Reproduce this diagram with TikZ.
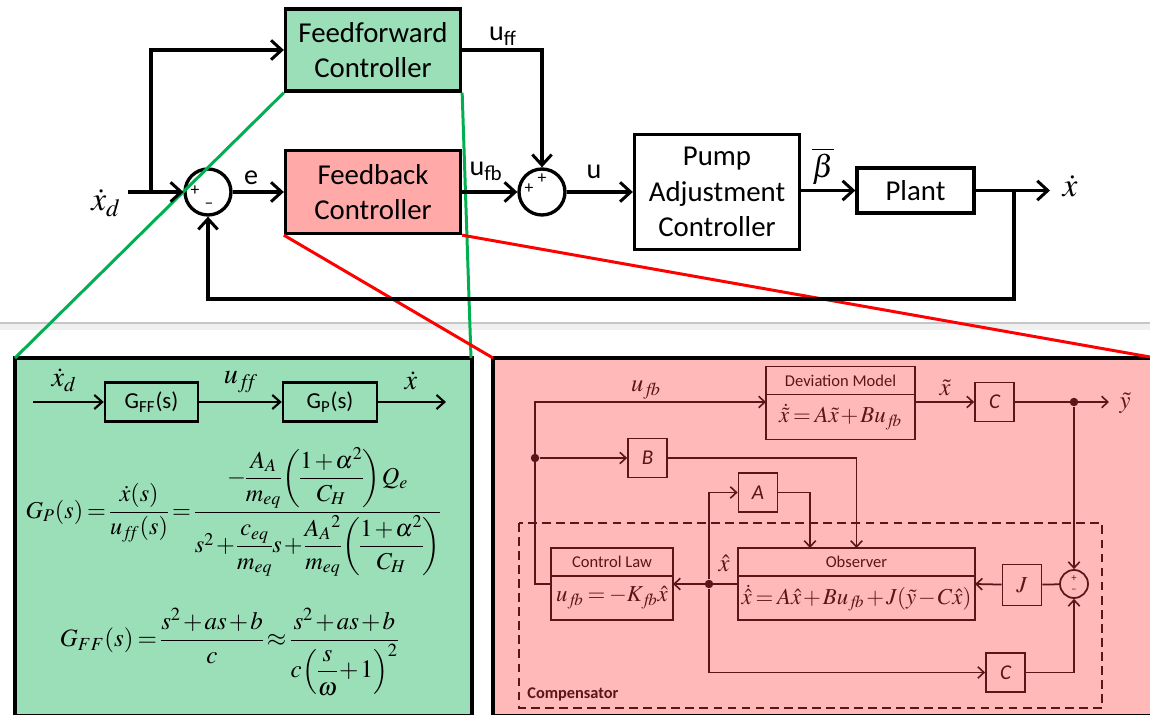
\documentclass[tikz,border=0pt]{standalone}
\usepackage{amsmath,amssymb}
\usepackage{mathptmx}
\usepackage[no-math]{fontspec}
\setmainfont{Carlito}
\usepackage{xcolor}
\usepackage{tikz}
\usetikzlibrary{positioning,calc,arrows.meta}

\definecolor{ffgreen}{HTML}{9BDFB8}
\definecolor{fbpink}{HTML}{FFA9A9}
\definecolor{panelred}{HTML}{FFB9B9}
\definecolor{zoomgreen}{HTML}{00B050}
\definecolor{maroon}{HTML}{5A1616}

% tighter spacing in the equations
\newcommand{\tighteq}{\thickmuskip=3mu \medmuskip=1.5mu \thinmuskip=1mu \nulldelimiterspace=0pt}
\newcommand{\subff}{{f\mkern-4mu f}}
\newcommand{\subfb}{{f\mkern-3mu b}}

\tikzset{
    mainline/.style={line width=1.9pt, black, -{Straight Barb[length=6pt,width=11pt,line width=1.7pt]}},
    mainblock/.style={draw=black, line width=1.9pt, minimum width=3.5cm, align=center, inner sep=0pt,
        font=\fontsize{16.4}{20}\selectfont},
    sumnode/.style={circle, draw=black, line width=1.9pt, minimum size=0.92cm, inner sep=0pt},
    signmark/.style={inner sep=0pt, font=\fontsize{10}{10}\selectfont},
    toplabel/.style={inner sep=0pt, font=\fontsize{16}{18}\selectfont},
    panel/.style={draw=black, line width=1.8pt},
    zoomline/.style={line width=1.7pt},
    ffline/.style={line width=1.4pt, black, -{Straight Barb[length=4.5pt,width=8pt,line width=1.2pt]}},
    ffblock/.style={draw=black, line width=1.4pt, minimum height=0.78cm, inner sep=0pt,
        font=\fontsize{13}{15}\selectfont},
    darkline/.style={line width=1pt, maroon, -{Straight Barb[length=3.5pt,width=6.5pt,line width=0.9pt]}},
    darkplain/.style={line width=1pt, maroon},
    gainblock/.style={draw=maroon, line width=1pt, text=maroon, inner sep=0pt, minimum width=0.78cm,
        minimum height=0.78cm, font=\itshape\fontsize{12}{14}\selectfont},
    headblock/.style={draw=maroon, line width=1pt, text=maroon, inner sep=0pt, outer sep=0pt, minimum height=0.56cm,
        font=\fontsize{9.4}{11}\selectfont},
    eqblock/.style={draw=maroon, line width=1pt, text=maroon, inner sep=0pt, outer sep=0pt,
        font=\fontsize{13}{15}\selectfont},
    darkdot/.style={circle, fill=maroon, inner sep=0pt, minimum size=0.17cm},
    darklabel/.style={text=maroon, inner sep=0pt, font=\fontsize{14}{14}\selectfont},
}

\begin{document}
\begin{tikzpicture}[x=0.02cm, y=-0.02cm]
    \useasboundingbox (0,0) rectangle (1150,715);

    % Separator
    \fill[gray!12] (0,323) rectangle (1150,330);
    \draw[gray!45, line width=0.6pt] (0,323) -- (1150,323);

    % Panels
    \draw[panel, fill=ffgreen] (15,358) rectangle (472,716);
    \draw[panel, fill=panelred] (493,358) rectangle (1165,716);

    % Main loop blocks
    \node[mainblock, fill=ffgreen, minimum height=1.64cm] (ffc) at (373,50) {Feedforward\\Controller};
    \node[mainblock, fill=fbpink, minimum height=1.66cm] (fbc) at (373,192) {Feedback\\Controller};
    \node[mainblock, fill=white, minimum width=3.3cm, minimum height=2.3cm] (pump) at (717,192) {Pump\\Adjustment\\Controller};
    \node[mainblock, fill=white, minimum width=2.34cm, minimum height=0.9cm] (plant) at (915.5,190.5) {Plant};
    \node[sumnode] (sumfb) at (208,192) {};
    \node[sumnode] (sumu) at (542,192) {};

    % Zoom lines
    \draw[zoomline, zoomgreen] (ffc.south west) -- (15,358);
    \draw[zoomline, zoomgreen] (ffc.south east) -- (471,358);
    \draw[zoomline, red] (fbc.south west) -- (493,358);
    \draw[zoomline, red] (fbc.south east) -- (1150,357);

    % Signs
    \node[signmark] (signa) at (195,191) {+};
    \node[signmark] (signb) at (209,206) {--};
    \node[signmark] (signc) at (529,189) {+};
    \node[signmark] (signd) at (542,179) {+};

    % Main loop labels
    \node[font=\fontsize{19}{19}\selectfont, inner sep=0pt] (xdlabel) at (106,203) {$\dot{x}_d$};
    \node[toplabel] (elabel) at (251,178) {e};
    \node[toplabel] (ufflabel) at (503,36) {u\textsubscript{ff}};
    \node[toplabel] (ufblabel) at (486,171) {u\textsubscript{fb}};
    \node[toplabel] (ulabel) at (594,172) {u};
    \node[font=\fontsize{18}{18}\selectfont, inner sep=0pt] (betalabel) at (823,166) {$\overline{\beta}$};
    \node[font=\fontsize{19}{19}\selectfont, inner sep=0pt] (xoutlabel) at (1070,186) {$\dot{x}$};

    % Main loop connectors
    \coordinate (xin) at (128,192);
    \coordinate (xbr) at (151,192);
    \coordinate (xend) at (1050,190.5);
    \coordinate (outbr) at (1014,190.5);
    \coordinate (retn) at (1014,299);
    \coordinate (uturn) at (542,50);
    \draw[mainline] (xin) -- (sumfb);
    \draw[mainline] (xbr) |- (ffc);
    \draw[mainline] (sumfb) -- (fbc);
    \draw[mainline] (ffc) -- (uturn) -- (sumu);
    \draw[mainline] (fbc) -- (sumu);
    \draw[mainline] (sumu) -- (pump);
    \draw[mainline] (pump.east |- plant) -- (plant);
    \draw[mainline] (plant) -- (xend);
    \draw[mainline] (outbr) -- (retn) -| (sumfb);

    % Feedforward panel
    \node[ffblock, minimum width=1.86cm] (gff) at (151.5,402) {G\textsubscript{FF}(s)};
    \node[ffblock, minimum width=1.88cm] (gp) at (330,402) {G\textsubscript{P}(s)};
    \coordinate (ffin) at (33,402);
    \coordinate (ffout) at (446,402);
    \draw[ffline] (ffin) -- (gff);
    \draw[ffline] (gff) -- (gp);
    \draw[ffline] (gp) -- (ffout);
    \node[font=\fontsize{16}{16}\selectfont, inner sep=0pt] (xdin) at (64,380) {$\dot{x}_d$};
    \node[font=\fontsize{16}{16}\selectfont, inner sep=0pt] (uffmid) at (241,382) {$u_\subff$};
    \node[font=\fontsize{16}{16}\selectfont, inner sep=0pt] (xdout) at (411,381) {$\dot{x}$};

    \node[inner sep=0pt, font=\fontsize{13.8}{16}\selectfont] (gpeq) at (233,512)
        {$\tighteq G_{P}(s)=\dfrac{\dot{x}(s)}{u_\subff(s)}=\dfrac{-\dfrac{A_{A}}{m_{eq}}\left(\dfrac{1+\alpha^{2}}{C_{H}}\right)Q_{e}}{s^{2}+\dfrac{c_{eq}}{m_{eq}}s+\dfrac{A_{A}{}^{2}}{m_{eq}}\left(\dfrac{1+\alpha^{2}}{C_{H}}\right)}$};
    \node[inner sep=0pt, font=\fontsize{14.2}{17}\selectfont] (gffeq) at (229,652)
        {$\tighteq G_{FF}(s)=\dfrac{s^{2}+as+b}{c}\approx\dfrac{s^{2}+as+b}{c\left(\dfrac{s}{\omega}+1\right)^{2}}$};

    % Compensator frame
    \draw[line width=1pt, maroon, dash pattern=on 5pt off 3pt] (519,523) rectangle (1102,708);
    \node[anchor=west, inner sep=0pt, text=maroon, font=\bfseries\fontsize{9.3}{11}\selectfont] (complabel) at (527,694) {Compensator};

    % Compensator blocks
    \node[headblock, minimum width=2.98cm] (devt) at (840.5,380.5) {Deviation Model};
    \node[eqblock, minimum width=2.98cm, minimum height=0.9cm, below=0pt of devt] (devb) {$\tighteq\dot{\tilde{x}}=A\tilde{x}+Bu_\subfb$};
    \node[headblock, minimum width=2.44cm] (lawt) at (612,562) {Control Law};
    \node[eqblock, minimum width=2.44cm, minimum height=0.88cm, below=0pt of lawt] (lawb) {$\tighteq u_\subfb=-K_\subfb\hat{x}$};
    \node[headblock, minimum width=4.74cm] (obst) at (856.5,562) {Observer};
    \node[eqblock, minimum width=4.74cm, minimum height=0.88cm, below=0pt of obst] (obsb) {$\tighteq\dot{\hat{x}}=A\hat{x}+Bu_\subfb+J(\tilde{y}-C\hat{x})$};
    \node[gainblock] (cone) at (994.5,402) {C};
    \node[gainblock] (bblk) at (647.5,458) {B};
    \node[gainblock] (ablk) at (758,492.5) {A};
    \node[gainblock, minimum height=0.82cm, font=\fontsize{13}{15}\selectfont] (jblk) at (1022,585) {$J$};
    \node[gainblock] (ctwo) at (1005.5,672.5) {C};
    \node[circle, draw=maroon, line width=1pt, minimum size=0.56cm, inner sep=0pt] (sumy) at (1074,584) {};
    \node[signmark, text=maroon, font=\fontsize{6}{6}\selectfont] (signe) at (1074,579) {+};
    \node[signmark, text=maroon, font=\fontsize{6}{6}\selectfont] (signf) at (1074,591) {--};

    % Compensator junctions
    \node[darkdot] (dotu) at (535,458) {};
    \node[darkdot] (doty) at (1074,402) {};
    \node[darkdot] (dotx) at (709,584) {};

    % Compensator labels
    \node[darklabel] (ufbtop) at (646,390) {$u_\subfb$};
    \node[darklabel] (xtilde) at (945,388) {$\tilde{x}$};
    \node[darklabel] (ytilde) at (1125,403) {$\tilde{y}$};
    \node[darklabel] (xhat) at (724,563) {$\hat{x}$};

    % Compensator connectors
    \coordinate (devin) at (766,402);
    \coordinate (devout) at (915,402);
    \coordinate (yend) at (1109,402);
    \coordinate (lawout) at (551,584);
    \coordinate (lawin) at (673,584);
    \coordinate (ubend) at (535,584);
    \coordinate (obsout) at (738,584);
    \coordinate (obsin) at (975,584);
    \coordinate (aobs) at (810,548);
    \coordinate (cbend) at (709,672.5);
    \draw[darkline] (lawout) -- (ubend) |- (devin);
    \draw[darkline] (devout) -- (cone);
    \draw[darkline] (cone) -- (yend);
    \draw[darkline] (dotu) -- (bblk);
    \draw[darkline] (bblk) -| (obst);
    \draw[darkline] (ablk) -| (aobs);
    \draw[darkline] (dotx) |- (ablk);
    \draw[darkline] (obsout) -- (lawin);
    \draw[darkline] (jblk) -- (obsin);
    \draw[darkplain] (sumy) -- (jblk);
    \draw[darkline] (doty) -- (sumy);
    \draw[darkline] (dotx) -- (cbend) -- (ctwo);
    \draw[darkline] (ctwo) -| (sumy);
\end{tikzpicture}
\end{document}
